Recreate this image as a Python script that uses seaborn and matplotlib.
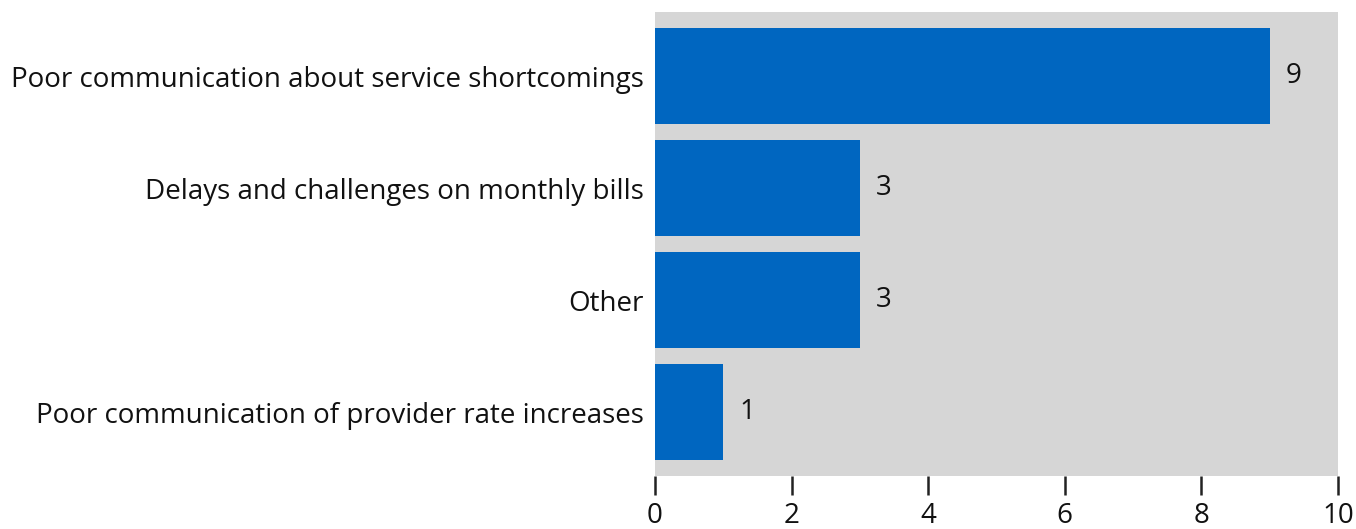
import matplotlib
matplotlib.use("Agg")
import matplotlib.pyplot as plt
import seaborn as sns
import pandas as pd

categories = [
    "Poor communication about service shortcomings",
    "Delays and challenges on monthly bills",
    "Other",
    "Poor communication of provider rate increases",
]
counts = [9, 3, 3, 1]
xticks = [0, 2, 4, 6, 8, 10]

df = pd.DataFrame({"category": categories, "count": counts})

sns.set_theme(style="white")
plt.rcParams["font.family"] = ["Open Sans", "DejaVu Sans"]

fig = plt.figure(figsize=(13.56, 5.29), dpi=100)
ax = fig.add_axes([0.483, 0.10, 0.5037, 0.877])
ax.set_facecolor("#d6d6d6")

sns.barplot(data=df, x="count", y="category", color="#0066c0", width=0.857,
            saturation=1, linewidth=0, ax=ax)

for i, v in enumerate(counts):
    ax.text(v + 0.23, i, str(v), va="center", ha="left", fontsize=20, color="#111111")

ax.set_xlim(0, 10)
ax.set_ylim(3.57, -0.57)
ax.set_xticks(xticks)
ax.set_xlabel("")
ax.set_ylabel("")
for s in ax.spines.values():
    s.set_visible(False)
ax.tick_params(axis="x", direction="out", length=14, width=1.8, color="#222222",
               labelsize=20, pad=5, bottom=True)
ax.tick_params(axis="y", length=0, labelsize=20, pad=8)
for t in ax.get_xticklabels() + ax.get_yticklabels():
    t.set_color("#111111")

fig.savefig("out.png", dpi=100)
